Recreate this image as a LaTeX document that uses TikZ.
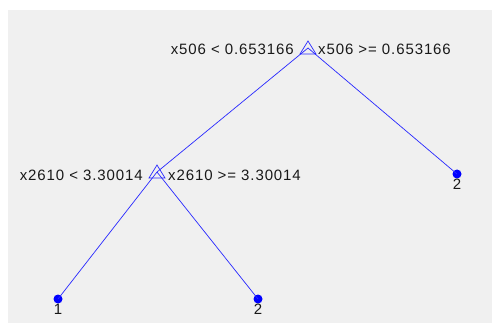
\documentclass[tikz,border=0pt]{standalone}
\usepackage{fontspec}
\setmainfont{Liberation Sans}
\newfontfamily\labfont[LetterSpace=6]{Liberation Sans}
\usetikzlibrary{calc}
\definecolor{figbg}{RGB}{240,240,240}
\definecolor{treeblue}{RGB}{40,40,255}
\tikzset{
  edge/.style={draw=treeblue, line width=0.7pt},
  tri/.style={draw=treeblue, line width=0.7pt},
  leaf/.style={circle, fill=blue, inner sep=0pt, minimum size=9pt},
  lab/.style={font=\labfont\fontsize{15}{15}\selectfont, text=black!90, inner sep=0pt},
}
\begin{document}
\begin{tikzpicture}[x=1pt,y=-1pt]
\useasboundingbox (0,0) rectangle (492,323);
\fill[figbg] (8,10) rectangle (492,323);
% branch nodes
\coordinate (r) at (308,48);
\coordinate (n2) at (157,172);
% leaves
\node[leaf] (l1) at (58,299) {};
\node[leaf] (l2) at (258,299) {};
\node[leaf] (l3) at (457,174) {};
% edges
\draw[edge] (r) -- (n2);
\draw[edge] (r) -- (l3.center);
\draw[edge] (n2) -- (l1.center);
\draw[edge] (n2) -- (l2.center);
% triangle markers
\draw[tri] ($(r)+(0,-7)$) -- ($(r)+(-8,6)$) -- ($(r)+(8,6)$) -- cycle;
\draw[tri] ($(n2)+(0,-7)$) -- ($(n2)+(-8,6)$) -- ($(n2)+(8,6)$) -- cycle;
% split labels
\node[lab, anchor=east] (rl) at (294,49) {x506 < 0.653166};
\node[lab, anchor=west] (rr) at (318,49) {x506 >= 0.653166};
\node[lab, anchor=east] (nl) at (143,175) {x2610 < 3.30014};
\node[lab, anchor=west] (nr) at (168,175) {x2610 >= 3.30014};
% leaf labels
\node[lab] (t1) at (58,309) {1};
\node[lab] (t2) at (258,309) {2};
\node[lab] (t3) at (457,184) {2};
\end{tikzpicture}
\end{document}
